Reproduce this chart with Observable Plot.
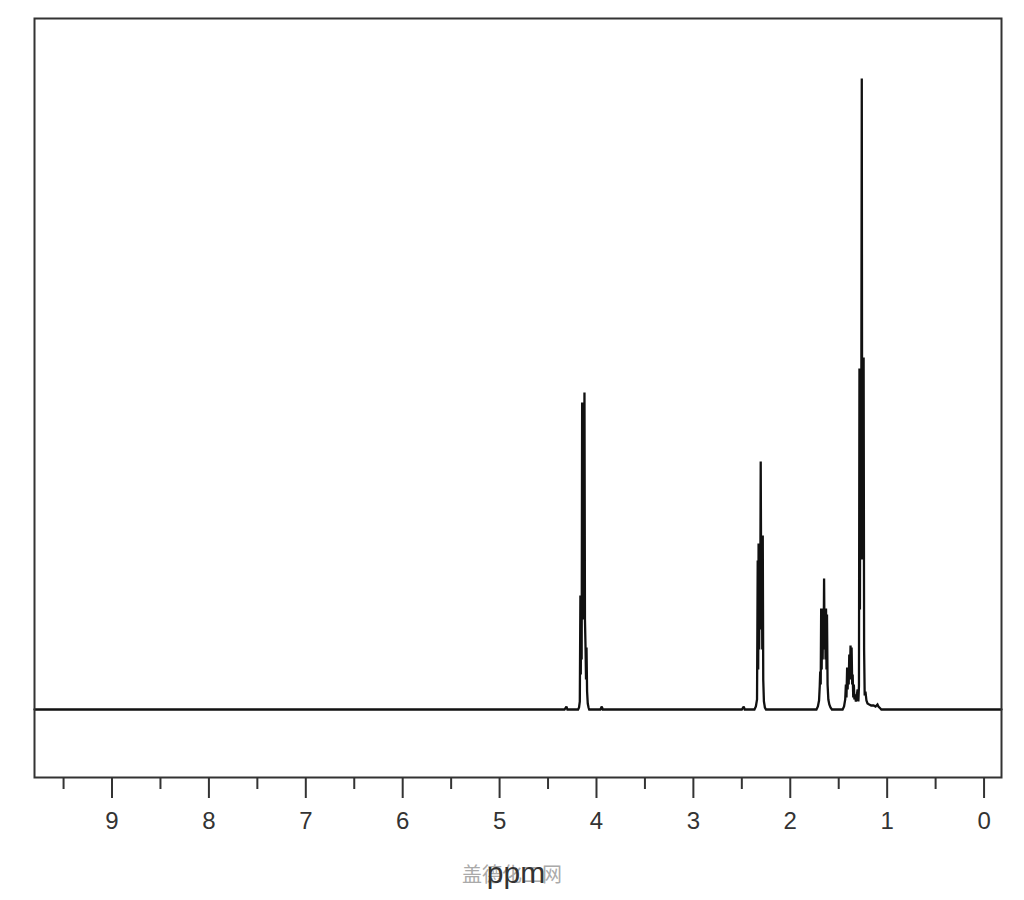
<!DOCTYPE html>
<html><head><meta charset="utf-8">
<script src="https://cdn.jsdelivr.net/npm/d3@7"></script>
<script src="https://cdn.jsdelivr.net/npm/@observablehq/plot@0.6"></script>
<style>
html,body{margin:0;padding:0;background:#fff;overflow:hidden}
#wrap{position:relative;width:1024px;height:900px}
</style></head><body><div id="wrap"></div>
<script>
// chemical shift (ppm) and signal intensity
const ppm = [
  9.8, 4.33, 4.31, 4.30,
  4.19, 4.18, 4.172, 4.166, 4.162, 4.158, 4.153, 4.148, 4.143, 4.139, 4.134, 4.130, 4.124, 4.119, 4.113, 4.108, 4.103, 4.097, 4.090, 4.082, 4.075,
  3.96, 3.945, 3.935,
  2.50, 2.48, 2.47,
  2.37, 2.355, 2.343, 2.336, 2.331, 2.327, 2.321, 2.316, 2.311, 2.305, 2.299, 2.294, 2.289, 2.284, 2.279, 2.272, 2.262, 2.25,
  1.73, 1.715, 1.703, 1.696, 1.691, 1.686, 1.681, 1.676, 1.671, 1.666, 1.661, 1.656, 1.651, 1.646, 1.641, 1.636, 1.631, 1.626, 1.621, 1.615, 1.607, 1.597, 1.585, 1.57,
  1.46, 1.445, 1.433, 1.426, 1.420, 1.413, 1.408, 1.403, 1.397, 1.391, 1.385, 1.378, 1.372, 1.367, 1.361, 1.356, 1.350, 1.344, 1.338, 1.331, 1.323, 1.316,
  1.305, 1.297, 1.291, 1.286, 1.281, 1.276, 1.271, 1.266, 1.262, 1.258, 1.253, 1.248, 1.243, 1.238, 1.232, 1.224, 1.214, 1.203, 1.185, 1.165, 1.14, 1.12, 1.10, 1.09, 1.07, 1.06,
  -0.18
];
const intensity = [
  0, 0, 3, 0,
  0, 2, 8, 114, 35, 114, 50, 307, 90, 307, 110, 120, 317, 90, 62, 30, 62, 18, 6, 2, 0,
  0, 3, 0,
  0, 3, 0,
  0, 3, 10, 149, 40, 166, 60, 166, 80, 248, 90, 174, 60, 174, 30, 8, 2, 0,
  0, 3, 9, 23, 38, 25, 101, 40, 101, 50, 101, 60, 131, 60, 101, 50, 101, 40, 95, 25, 10, 5, 2, 0,
  0, 3, 10, 25, 12, 42, 20, 42, 25, 55, 30, 64, 30, 62, 25, 35, 12, 25, 10, 15, 8, 12,
  20, 8, 24, 341, 100, 341, 150, 352, 631, 200, 352, 150, 352, 60, 14, 18, 9, 6, 5, 4, 4, 3, 5, 3, 1, 0,
  0
];
const majorTicks = [0, 1, 2, 3, 4, 5, 6, 7, 8, 9];
const minorTicks = [0.5, 1.5, 2.5, 3.5, 4.5, 5.5, 6.5, 7.5, 8.5, 9.5];
const xTitle = "ppm";
const watermark = "盖德化工网";

const spectrum = ppm.map((p, i) => ({p, v: intensity[i]}));

const chart = Plot.plot({
  width: 1024,
  height: 900,
  marginLeft: 34,
  marginRight: 23,
  marginTop: 18,
  marginBottom: 123,
  style: {background: "#fff", fontFamily: "Liberation Sans, Arial, sans-serif"},
  x: {domain: [9.8, -0.18]},
  y: {domain: [-68, 691], axis: null},
  marks: [
    Plot.line(spectrum, {x: "p", y: "v", stroke: "#111", strokeWidth: 2.3, strokeLinejoin: "miter", strokeMiterlimit: 2}),
    Plot.axisX(minorTicks, {anchor: "bottom", tickSize: 12, strokeWidth: 2, stroke: "#333", tickFormat: () => "", label: null}),
    Plot.axisX(majorTicks, {anchor: "bottom", tickSize: 21, tickPadding: 13, strokeWidth: 2, color: "#333", fontSize: 24, tickFormat: d => String(d), label: null}),
    Plot.frame({stroke: "#333", strokeWidth: 2})
  ]
});

document.getElementById("wrap").appendChild(chart);
const svg = d3.select(chart);
svg.append("text")
  .attr("x", 512).attr("y", 882)
  .attr("text-anchor", "middle")
  .attr("fill", "#aaa")
  .attr("font-size", 20)
  .attr("font-family", "Noto Sans CJK SC")
  .text(watermark);
svg.append("text")
  .attr("x", 516).attr("y", 883)
  .attr("text-anchor", "middle")
  .attr("fill", "#333")
  .attr("font-size", 30)
  .attr("font-family", "Liberation Sans, Arial, sans-serif")
  .text(xTitle);
</script>
</body></html>
